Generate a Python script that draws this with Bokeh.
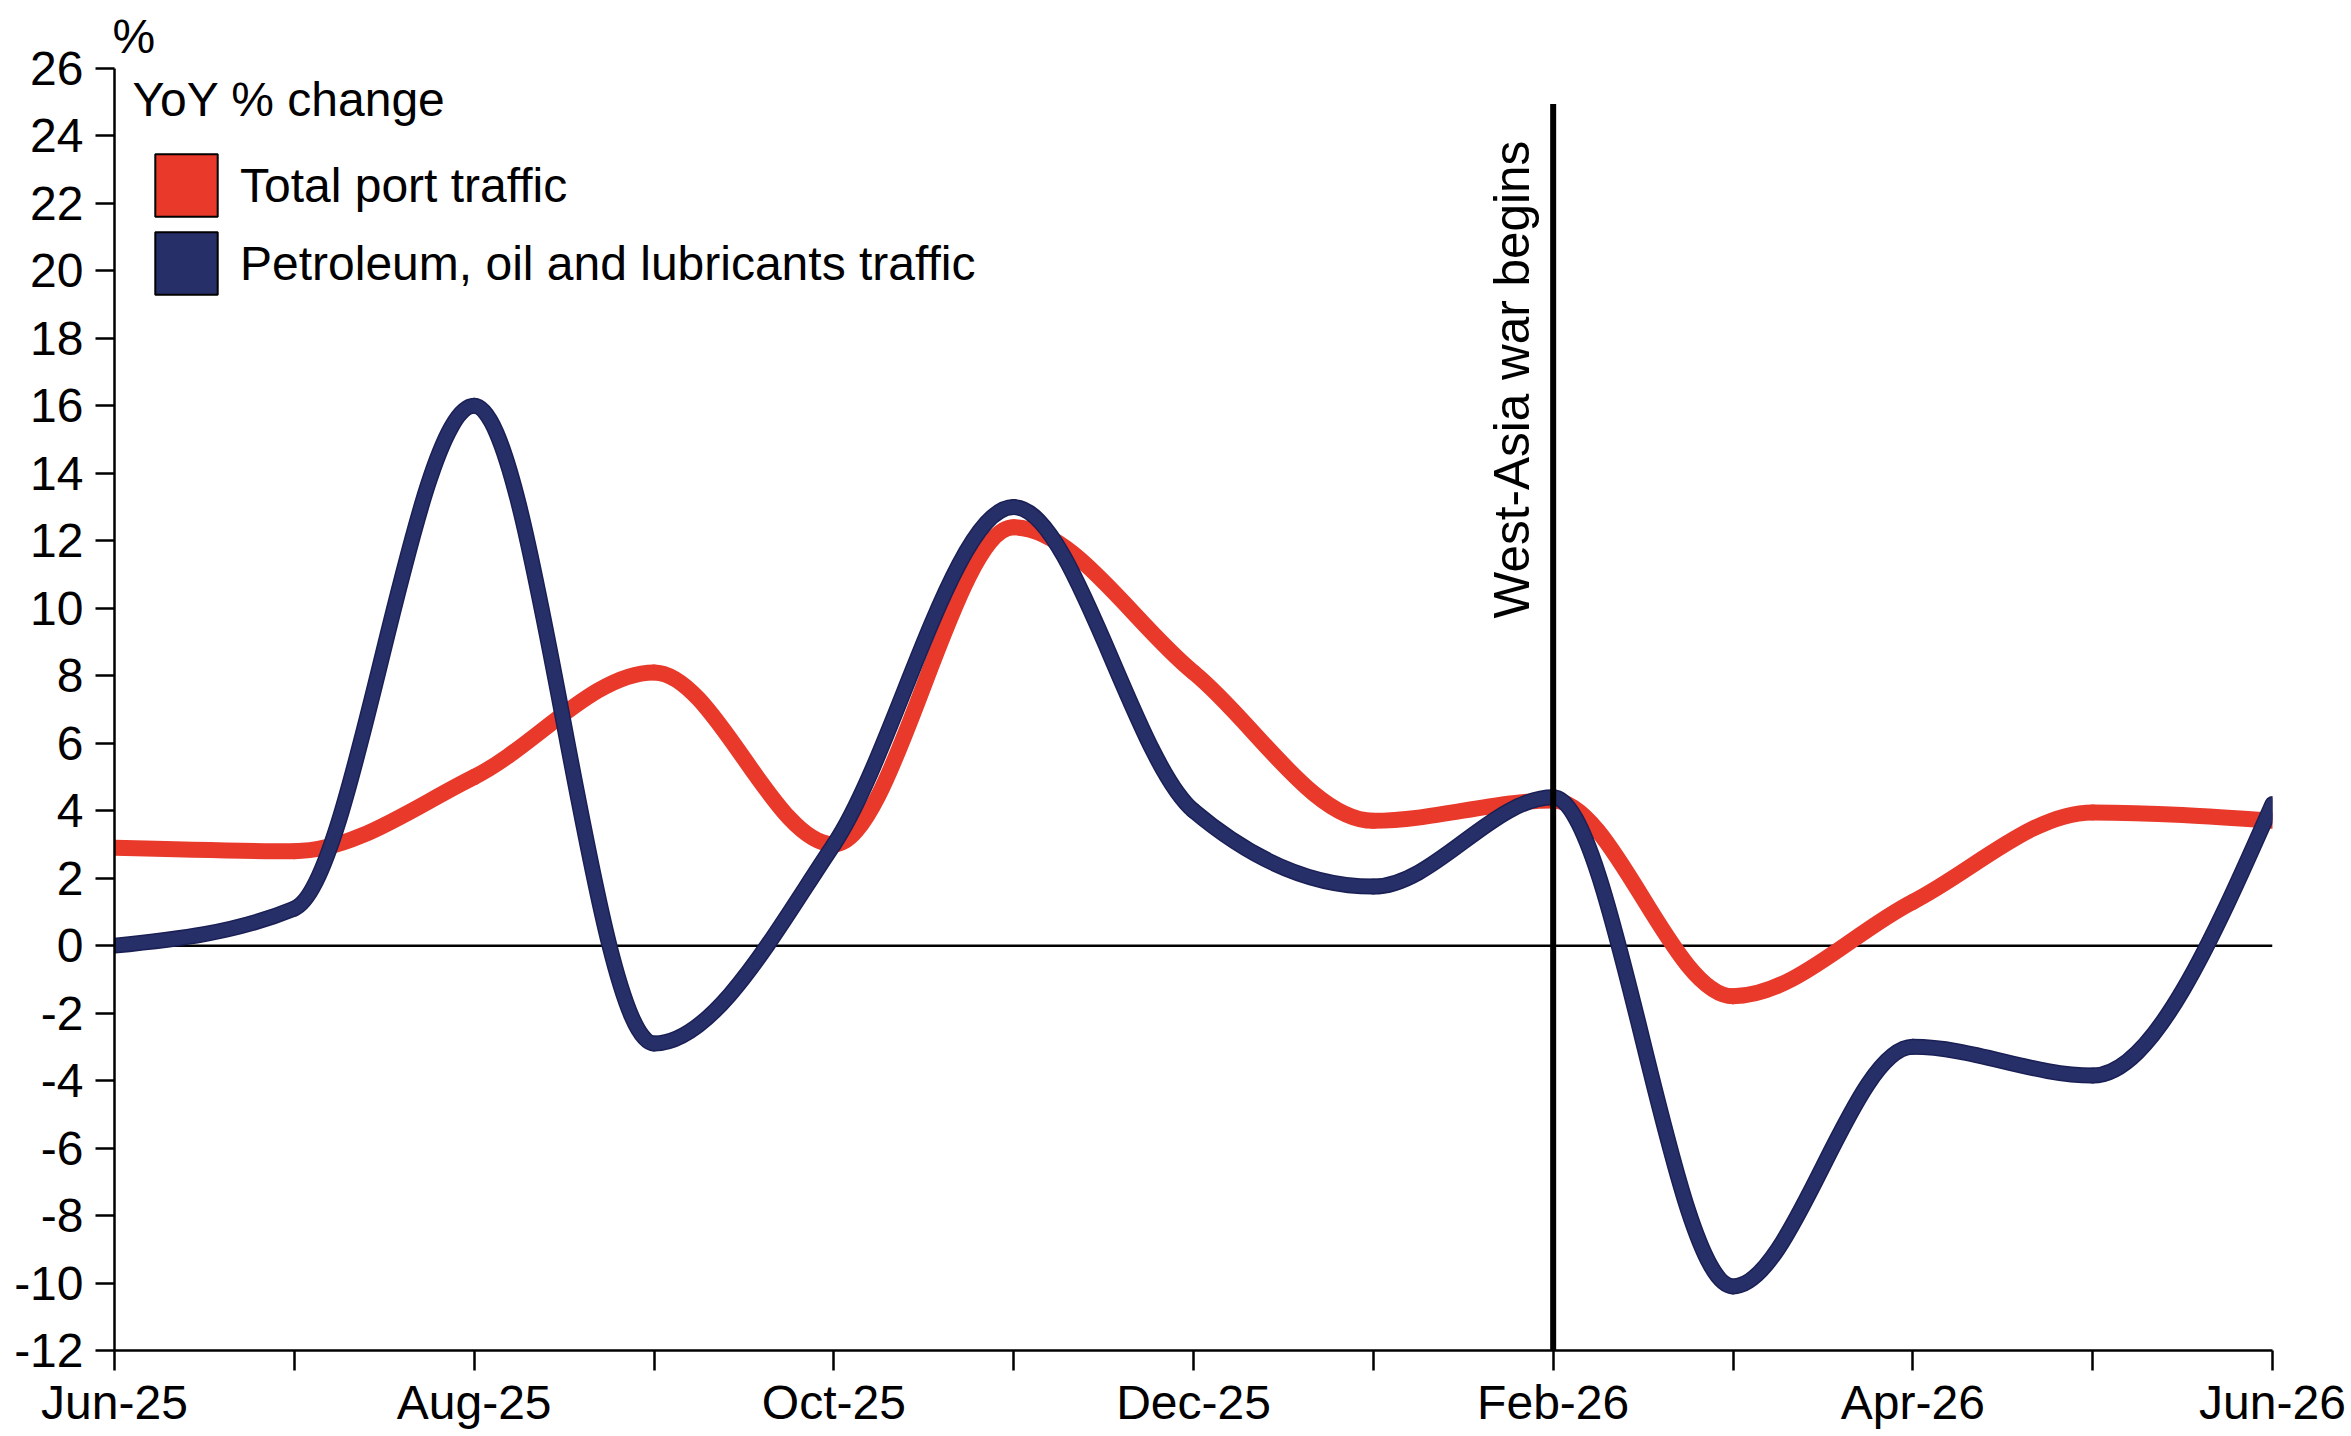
import math
from bokeh.plotting import figure
from bokeh.models import FixedTicker, Span, Label, Legend, LegendItem, ColumnDataSource
from bokeh.embed import file_html
from bokeh.resources import INLINE

# ---- data ----
months = ["Jun-25", "Jul-25", "Aug-25", "Sep-25", "Oct-25", "Nov-25", "Dec-25",
          "Jan-26", "Feb-26", "Mar-26", "Apr-26", "May-26", "Jun-26"]
total_port = [2.9, 2.8, 5.0, 8.1, 3.0, 12.4, 8.1, 3.7, 4.3, -1.5, 1.3, 3.95, 3.7]
pol_traffic = [0.0, 1.1, 16.0, -2.9, 3.0, 13.0, 4.0, 1.75, 4.4, -10.1, -3.0, -3.85, 4.2]
y_ticks = list(range(-12, 27, 2))
series_names = ["Total port traffic", "Petroleum, oil and lubricants traffic"]
unit_label = "%"
legend_title = "YoY % change"
event_month = "Feb-26"
event_label = "West-Asia war begins"
event_top = 24.95

RED = "#E8392A"
BLUE = "#272F69"
BLUE_EDGE = "#1A2055"
FONT = "Liberation Sans"
FS = "48px"


def monotone_bezier(ys):
    """Monotone cubic (d3 curveMonotoneX) control points for unit spacing."""
    n = len(ys)
    xs = list(range(n))
    m = [0.0] * n
    for i in range(1, n - 1):
        s0 = ys[i] - ys[i - 1]
        s1 = ys[i + 1] - ys[i]
        p = (s0 + s1) / 2.0
        sg = (math.copysign(1, s0) if s0 else 0) + (math.copysign(1, s1) if s1 else 0)
        m[i] = sg * min(abs(s0), abs(s1), 0.5 * abs(p))
    m[0] = (3 * (ys[1] - ys[0]) - m[1]) / 2.0
    m[-1] = (3 * (ys[-1] - ys[-2]) - m[-2]) / 2.0
    d = dict(x0=[], y0=[], x1=[], y1=[], cx0=[], cy0=[], cx1=[], cy1=[])
    h = 1.0 / 3.0
    for i in range(n - 1):
        d["x0"].append(xs[i]); d["y0"].append(ys[i])
        d["x1"].append(xs[i + 1]); d["y1"].append(ys[i + 1])
        d["cx0"].append(xs[i] + h); d["cy0"].append(ys[i] + m[i] * h)
        d["cx1"].append(xs[i + 1] - h); d["cy1"].append(ys[i + 1] - m[i + 1] * h)
    return ColumnDataSource(d)


n = len(months)
p = figure(frame_width=2158, frame_height=1282,
           x_range=(0, n - 1), y_range=(y_ticks[0], y_ticks[-1]),
           min_border_left=114, min_border_top=68, min_border_right=77, min_border_bottom=80,
           title=unit_label,
           output_backend="svg", toolbar_location=None)
p.outline_line_color = None
p.xgrid.visible = False
p.ygrid.visible = False
p.background_fill_color = "white"
p.border_fill_color = "white"

p.title.align = "left"
p.title.offset = -2
p.title.text_font = FONT
p.title.text_font_size = FS
p.title.text_font_style = "normal"
p.title.text_color = "black"
p.title.standoff = 12

# zero line
p.add_layout(Span(location=0, dimension="width", line_color="black", line_width=2.5, level="underlay"))

# series
red_src = monotone_bezier(total_port)
blue_src = monotone_bezier(pol_traffic)
bez = dict(x0="x0", y0="y0", x1="x1", y1="y1", cx0="cx0", cy0="cy0", cx1="cx1", cy1="cy1")
p.bezier(source=red_src, line_color=RED, line_width=16, line_cap="round", **bez)
p.bezier(source=blue_src, line_color=BLUE_EDGE, line_width=16, line_cap="round", **bez)
p.bezier(source=blue_src, line_color=BLUE, line_width=13, line_cap="round", **bez)

# event line
ev = months.index(event_month)
p.segment(x0=[ev], y0=[y_ticks[0]], x1=[ev], y1=[event_top], line_color="black", line_width=6)
p.add_layout(Label(x=ev, y=9.7, x_offset=-42, text=event_label, angle=math.pi / 2,
                   text_align="left", text_baseline="middle",
                   text_font=FONT, text_font_size="49.5px", text_color="black"))

# axes
xa = p.xaxis[0]
xa.ticker = FixedTicker(ticks=list(range(0, n, 2)), minor_ticks=list(range(1, n, 2)))
xa.major_label_overrides = {i: months[i] for i in range(0, n, 2)}
ya = p.yaxis[0]
ya.ticker = FixedTicker(ticks=y_ticks, minor_ticks=[])
ya.major_label_overrides = {t: str(t) for t in y_ticks}
for ax in (xa, ya):
    ax.axis_line_color = "black"
    ax.axis_line_width = 2.5
    ax.major_tick_line_color = "black"
    ax.major_tick_line_width = 2.5
    ax.major_tick_in = 0
    ax.major_label_text_font = FONT
    ax.major_label_text_font_size = FS
    ax.major_label_text_color = "black"
xa.major_tick_out = 20
xa.minor_tick_out = 20
xa.minor_tick_in = 0
xa.minor_tick_line_color = "black"
xa.minor_tick_line_width = 2.5
xa.major_label_standoff = 5
ya.major_tick_out = 19
ya.minor_tick_line_color = None
ya.major_label_standoff = 12

# legend
p.add_layout(Label(x=0, y=25.08, x_offset=18, text=legend_title, text_baseline="middle",
                   text_font=FONT, text_font_size=FS, text_color="black"))

nan = [float("nan")]
leg_red = p.quad(left=nan, right=nan, top=nan, bottom=nan, fill_color=RED, line_color="black", line_width=2)
leg_blue = p.quad(left=nan, right=nan, top=nan, bottom=nan, fill_color=BLUE, line_color="black", line_width=2)
legend = Legend(items=[LegendItem(label=series_names[0], renderers=[leg_red]),
                       LegendItem(label=series_names[1], renderers=[leg_blue])],
                location=(33, 1048), glyph_width=78, glyph_height=78, spacing=0,
                padding=0, margin=0, label_standoff=15,
                label_text_font=FONT, label_text_font_size=FS, label_text_color="black",
                background_fill_alpha=0, border_line_alpha=0)
p.add_layout(legend)

open("out.html", "w").write(file_html(p, INLINE))
